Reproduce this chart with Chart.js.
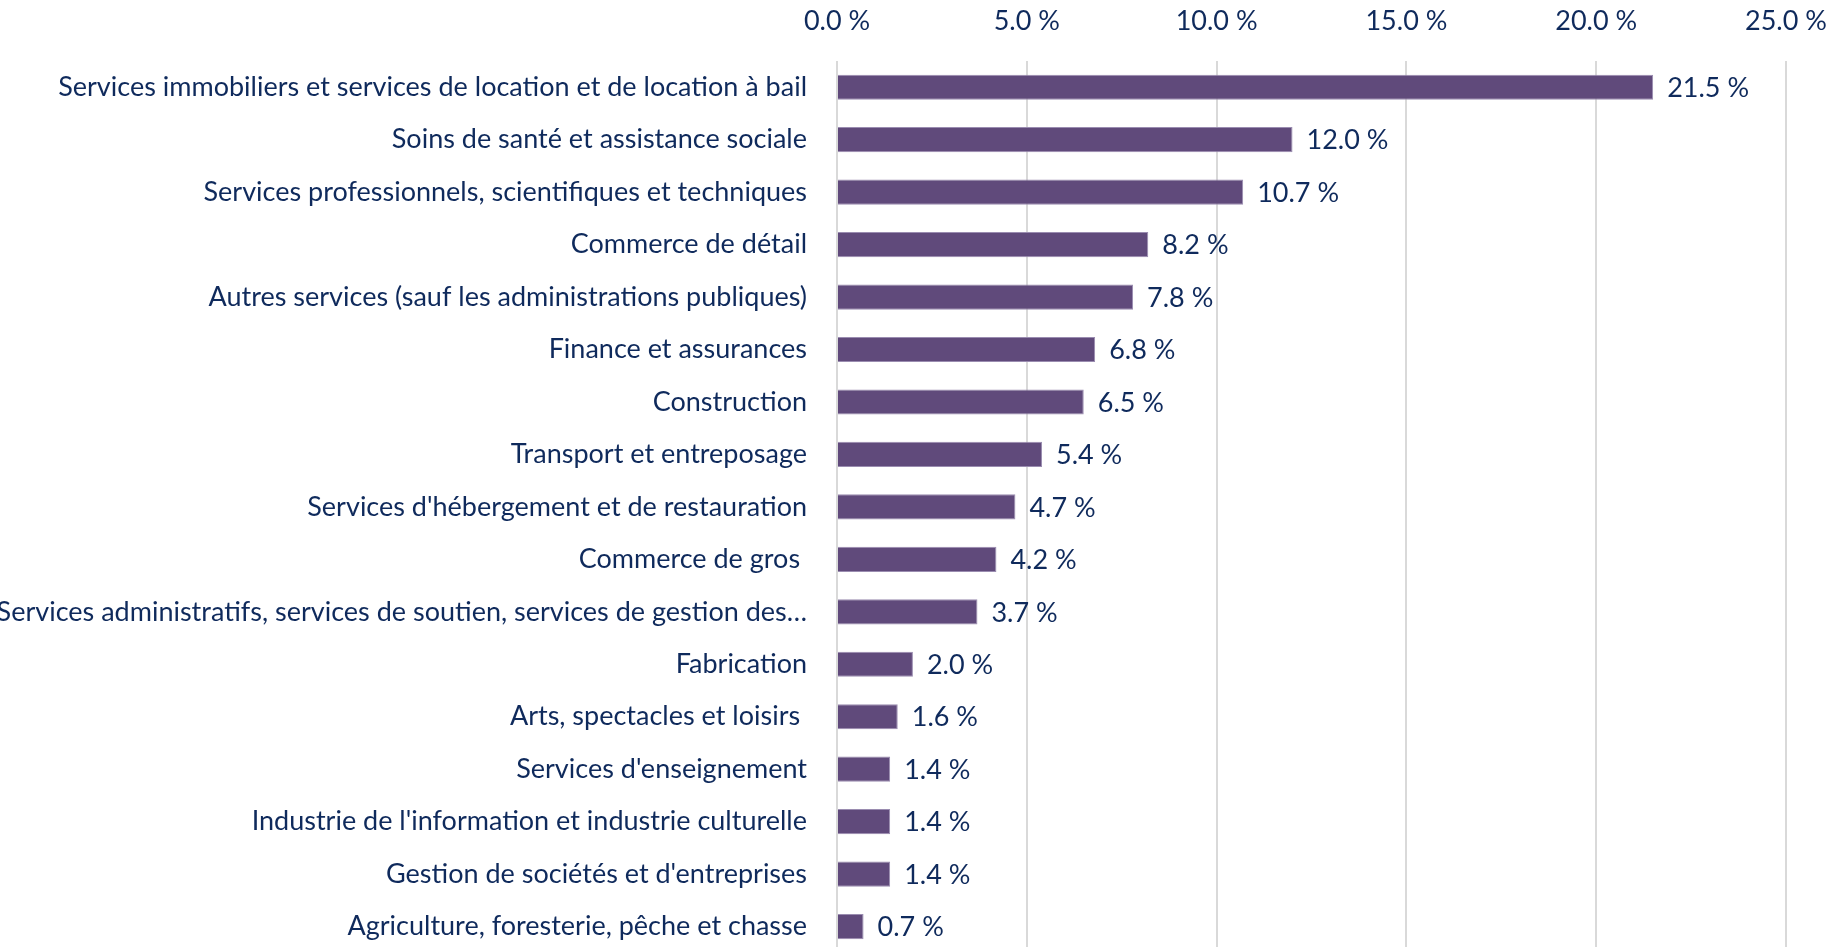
<!DOCTYPE html>
<html>
<head>
<meta charset="utf-8">
<script src="https://cdn.jsdelivr.net/npm/chart.js@4.4.1/dist/chart.umd.min.js"></script>
<style>
  html, body { margin: 0; padding: 0; background: #fff; overflow: hidden; }
  canvas { display: block; }
</style>
</head>
<body>
<canvas id="industryChart" width="1836" height="999"></canvas>
<script>
const industries = [
    "Services immobiliers et services de location et de location à bail",
    "Soins de santé et assistance sociale",
    "Services professionnels, scientifiques et techniques",
    "Commerce de détail",
    "Autres services (sauf les administrations publiques)",
    "Finance et assurances",
    "Construction",
    "Transport et entreposage",
    "Services d'hébergement et de restauration",
    "Commerce de gros ",
    "Services administratifs, services de soutien, services de gestion des…",
    "Fabrication",
    "Arts, spectacles et loisirs ",
    "Services d'enseignement",
    "Industrie de l'information et industrie culturelle",
    "Gestion de sociétés et d'entreprises",
    "Agriculture, foresterie, pêche et chasse"
];
const shares = [21.5, 12.0, 10.7, 8.2, 7.8, 6.8, 6.5, 5.4, 4.7, 4.2, 3.7, 2.0, 1.6, 1.4, 1.4, 1.4, 0.7];
const xTicks = [0, 5, 10, 15, 20, 25];

const textColor = '#0f2a5c';
const fontFamily = "'Lato', sans-serif";

Chart.defaults.font.family = fontFamily;
Chart.defaults.font.size = 27;
Chart.defaults.color = textColor;

const fmt = (v) => v.toFixed(1) + ' %';

// value labels to the right of each bar
const valueLabels = {
    id: 'valueLabels',
    afterDatasetsDraw(chart) {
        const ctx = chart.ctx;
        const meta = chart.getDatasetMeta(0);
        ctx.save();
        ctx.font = '27px ' + fontFamily;
        ctx.fillStyle = textColor;
        ctx.textAlign = 'left';
        ctx.textBaseline = 'middle';
        meta.data.forEach((bar, i) => {
            ctx.fillText(fmt(shares[i]), bar.x + 14, bar.y + 1);
        });
        ctx.restore();
    }
};

const industryChart = new Chart(
    document.getElementById("industryChart"),
    {
        type: 'bar',
        data: {
            labels: industries,
            datasets: [{
                data: shares,
                backgroundColor: '#604a7b',
                borderColor: '#9a8cb0',
                borderWidth: 1,
                categoryPercentage: 1.0,
                barPercentage: 0.48
            }]
        },
        options: {
            indexAxis: 'y',
            responsive: false,
            animation: false,
            layout: { padding: { left: 0, right: 50, top: 0, bottom: 0 } },
            plugins: {
                legend: { display: false },
                tooltip: { enabled: false }
            },
            scales: {
                x: {
                    position: 'top',
                    min: 0,
                    max: 25,
                    afterBuildTicks: (scale) => {
                        scale.ticks = xTicks.map(v => ({ value: v }));
                    },
                    afterFit: (scale) => {
                        scale.height = 61;
                        scale.paddingLeft = 0;
                        scale.paddingRight = 0;
                    },
                    grid: {
                        color: '#d9d9d9',
                        lineWidth: 2,
                        drawTicks: false
                    },
                    border: { display: false },
                    ticks: {
                        padding: 24,
                        maxRotation: 0,
                        callback: (v) => fmt(v)
                    }
                },
                y: {
                    afterFit: (scale) => { scale.width = 837; },
                    grid: { display: false, drawTicks: false },
                    border: { display: false },
                    ticks: {
                        padding: 30,
                        autoSkip: false
                    }
                }
            }
        },
        plugins: [valueLabels]
    }
);
</script>
</body>
</html>
